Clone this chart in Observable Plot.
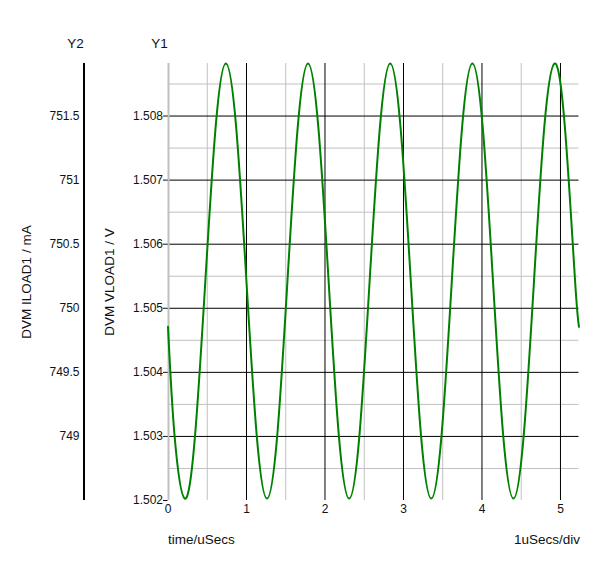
<!DOCTYPE html>
<html>
<head>
<meta charset="utf-8">
<script src="https://cdn.jsdelivr.net/npm/d3@7"></script>
<script src="https://cdn.jsdelivr.net/npm/@observablehq/plot@0.6"></script>
<style>
  html, body { margin: 0; padding: 0; background: #ffffff; }
  #chart { width: 600px; height: 563px; }
</style>
</head>
<body>
<div id="chart"></div>
<script>
// time axis, microseconds
const timeUs = [
  0, 0.083, 0.214, 0.345, 0.476, 0.607, 0.737, 0.868, 0.999, 1.130,
  1.261, 1.392, 1.522, 1.653, 1.784, 1.915, 2.046, 2.176, 2.308, 2.439,
  2.569, 2.700, 2.831, 2.962, 3.093, 3.223, 3.354, 3.485, 3.616, 3.747,
  3.878, 4.009, 4.140, 4.270, 4.401, 4.532, 4.663, 4.794, 4.925, 5.056,
  5.186, 5.236
];
// DVM VLOAD1, volts
const vload = [
  1.50471, 1.50302, 1.50203, 1.50302, 1.50543, 1.50783, 1.50882, 1.50783, 1.50543, 1.50302,
  1.50203, 1.50302, 1.50543, 1.50783, 1.50882, 1.50783, 1.50543, 1.50302, 1.50203, 1.50302,
  1.50543, 1.50783, 1.50882, 1.50783, 1.50543, 1.50302, 1.50203, 1.50302, 1.50543, 1.50783,
  1.50882, 1.50783, 1.50543, 1.50302, 1.50203, 1.50302, 1.50543, 1.50783, 1.50882, 1.50783,
  1.50543, 1.50471
];
const xTicks = [0, 1, 2, 3, 4, 5];
const xMinor = [0.5, 1.5, 2.5, 3.5, 4.5];
const y1Ticks = [1.502, 1.503, 1.504, 1.505, 1.506, 1.507, 1.508];
const y1Grid = [1.503, 1.504, 1.505, 1.506, 1.507, 1.508];
const y1Minor = [1.5025, 1.5035, 1.5045, 1.5055, 1.5065, 1.5075, 1.5085];
const y2Ticks = [749, 749.5, 750, 750.5, 751, 751.5];   // mA
const xDomain = [0, 5.236];
const y1Domain = [1.502, 1.50882];
// secondary axis relation: 750 mA at 1.505 V, 0.5 mA per mV
const y2Ref = 750, y1Ref = 1.505, y2PerY1 = 500;
const toY1 = (mA) => y1Ref + (mA - y2Ref) / y2PerY1;
const toY2 = (v) => +(y2Ref + (v - y1Ref) * y2PerY1).toFixed(1);

const data = timeUs.map((t, i) => ({t, v: vload[i]}));

const titleFont = 13.5;
const chart = Plot.plot({
  width: 600,
  height: 563,
  marginLeft: 167.5,
  marginRight: 21.5,
  marginTop: 63,
  marginBottom: 63,
  style: {fontFamily: "'Liberation Sans', Arial, sans-serif", fontSize: "12px", color: "#111", background: "#fff"},
  x: {domain: xDomain},
  y: {domain: y1Domain},
  marks: [
    Plot.ruleX(xMinor, {stroke: "#c0c0c0"}),
    Plot.ruleY(y1Minor, {stroke: "#c0c0c0"}),
    Plot.ruleX(xTicks.filter(d => d > 0), {stroke: "#000"}),
    Plot.ruleY(y1Grid, {stroke: "#000"}),
    Plot.ruleX([0], {stroke: "#c0c0c0", strokeWidth: 2, dx: 0.5}),
    Plot.ruleX([0], {stroke: "#000", strokeWidth: 2, dx: -84}),
    Plot.axisY({ticks: y1Ticks, tickSize: 4.5, tickPadding: 0.5, tickFormat: d => d.toFixed(3), label: null}),
    Plot.axisY({ticks: y2Ticks.map(toY1), tickSize: 0, tickPadding: 0, dx: -88.5, tickFormat: d => String(toY2(d)), label: null}),
    Plot.axisX({ticks: xTicks, tickSize: 0, tickPadding: 3.5, tickFormat: d => String(d), label: null}),
    Plot.line(data, {x: "t", y: "v", stroke: "#008000", strokeWidth: 2, curve: "natural"}),
    Plot.text(["Y1"], {text: d => d, frameAnchor: "top-left", textAnchor: "middle", lineAnchor: "bottom", dx: -8.5, dy: -16, fontSize: titleFont}),
    Plot.text(["Y2"], {text: d => d, frameAnchor: "top-left", textAnchor: "middle", lineAnchor: "bottom", dx: -92.5, dy: -16, fontSize: titleFont}),
    Plot.text(["DVM VLOAD1 / V"], {text: d => d, frameAnchor: "left", textAnchor: "middle", lineAnchor: "bottom", rotate: -90, dx: -54.5, fontSize: titleFont}),
    Plot.text(["DVM ILOAD1 / mA"], {text: d => d, frameAnchor: "left", textAnchor: "middle", lineAnchor: "bottom", rotate: -90, dx: -137.5, fontSize: titleFont}),
    Plot.text(["time/uSecs"], {text: d => d, frameAnchor: "bottom-left", textAnchor: "start", lineAnchor: "bottom", dx: 0, dy: 43, fontSize: titleFont}),
    Plot.text(["1uSecs/div"], {text: d => d, frameAnchor: "bottom-right", textAnchor: "end", lineAnchor: "bottom", dx: 1, dy: 43, fontSize: titleFont})
  ]
});
document.getElementById("chart").appendChild(chart);
</script>
</body>
</html>
